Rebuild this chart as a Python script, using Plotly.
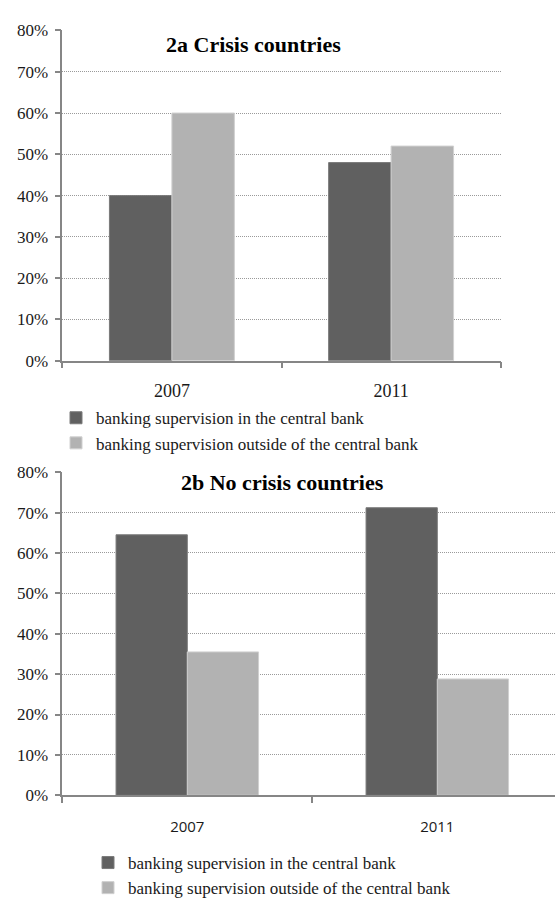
import plotly.graph_objects as go

W, H = 555, 906

years = ["2007", "2011"]
series_names = ["banking supervision in the central bank",
                "banking supervision outside of the central bank"]
crisis_in = [0.40, 0.48]
crisis_out = [0.60, 0.52]
nocrisis_in = [0.645, 0.712]
nocrisis_out = [0.355, 0.288]
y_ticks = [0, 0.1, 0.2, 0.3, 0.4, 0.5, 0.6, 0.7, 0.8]
y_ticklabels = ["0%", "10%", "20%", "30%", "40%", "50%", "60%", "70%", "80%"]
titles = ["2a Crisis countries", "2b No crisis countries"]

DARK = "#606060"
LIGHT = "#b2b2b2"
AX = "#868686"
GRID = "#9a9a9a"
SERIF = "Liberation Serif, Times New Roman, serif"
SANS = "Open Sans, Arial, sans-serif"

def px(x):
    return x / W

def py(y):
    return 1 - y / H

fig = go.Figure()
for vals, name, col, edge, xa, ya, lg in [
    (crisis_in, series_names[0], DARK, "#7a7a7a", "x", "y", "legend"),
    (crisis_out, series_names[1], LIGHT, "#d0d0d0", "x", "y", "legend"),
    (nocrisis_in, series_names[0], DARK, "#7a7a7a", "x2", "y2", "legend2"),
    (nocrisis_out, series_names[1], LIGHT, "#d0d0d0", "x2", "y2", "legend2"),
]:
    fig.add_trace(go.Bar(x=years, y=vals, name=name, xaxis=xa, yaxis=ya, legend=lg,
                         marker=dict(color=col, line=dict(color=edge, width=1)),
                         hoverinfo="skip"))

yax_common = dict(range=[0, 0.8], tickvals=y_ticks, ticktext=y_ticklabels,
                  showline=True, linecolor=AX, linewidth=1.5,
                  ticks="outside", ticklen=6, tickcolor=AX, tickwidth=1.5,
                  showgrid=True, gridcolor=GRID, griddash="1px,1px", gridwidth=1,
                  zeroline=False, ticklabelstandoff=3,
                  tickfont=dict(family=SERIF, size=17, color="#1a1a1a"))

fig.update_layout(
    width=W, height=H, margin=dict(l=0, r=0, t=0, b=0),
    paper_bgcolor="white", plot_bgcolor="white",
    barmode="group", bargap=0.43, bargroupgap=0,
    xaxis=dict(domain=[px(62.3), px(500.7)], range=[-0.5, 1.5], anchor="y",
               showline=True, linecolor=AX, linewidth=1.5,
               ticks="outside", tickson="boundaries", ticklen=6, tickcolor=AX, tickwidth=1.5,
               showgrid=False, ticklabelstandoff=13,
               tickfont=dict(family=SERIF, size=18, color="#1a1a1a")),
    yaxis=dict(domain=[py(365), py(22.3)], anchor="x", **yax_common),
    xaxis2=dict(domain=[px(62.3), 1.0], range=[-0.5, 1.5 - (562.3 - 555) / 250], anchor="y2",
                showline=True, linecolor=AX, linewidth=1.5,
                ticks="outside", tickson="boundaries", ticklen=6, tickcolor=AX, tickwidth=1.5,
                showgrid=False, ticklabelstandoff=17,
                tickfont=dict(family=SANS, size=15, color="#1a1a1a")),
    yaxis2=dict(domain=[py(816), py(480.7)], anchor="x2", **yax_common),
    legend=dict(x=px(56), y=py(406), xanchor="left", yanchor="top",
                font=dict(family=SERIF, size=17, color="#1a1a1a"),
                bgcolor="rgba(0,0,0,0)", tracegroupgap=0, itemclick=False),
    legend2=dict(x=px(88), y=py(868), xanchor="left", yanchor="top",
                 font=dict(family=SERIF, size=17, color="#1a1a1a"),
                 bgcolor="rgba(0,0,0,0)", tracegroupgap=0, itemclick=False),
    annotations=[
        dict(text="<b>" + titles[0] + "</b>", x=px(253.5), y=py(37), xref="paper", yref="paper",
             xanchor="center", yanchor="middle", showarrow=False,
             font=dict(family=SERIF, size=22, color="black")),
        dict(text="<b>" + titles[1] + "</b>", x=px(282), y=py(491), xref="paper", yref="paper",
             xanchor="center", yanchor="middle", showarrow=False,
             font=dict(family=SERIF, size=22, color="black")),
    ],
)

fig.write_html("out.html")
